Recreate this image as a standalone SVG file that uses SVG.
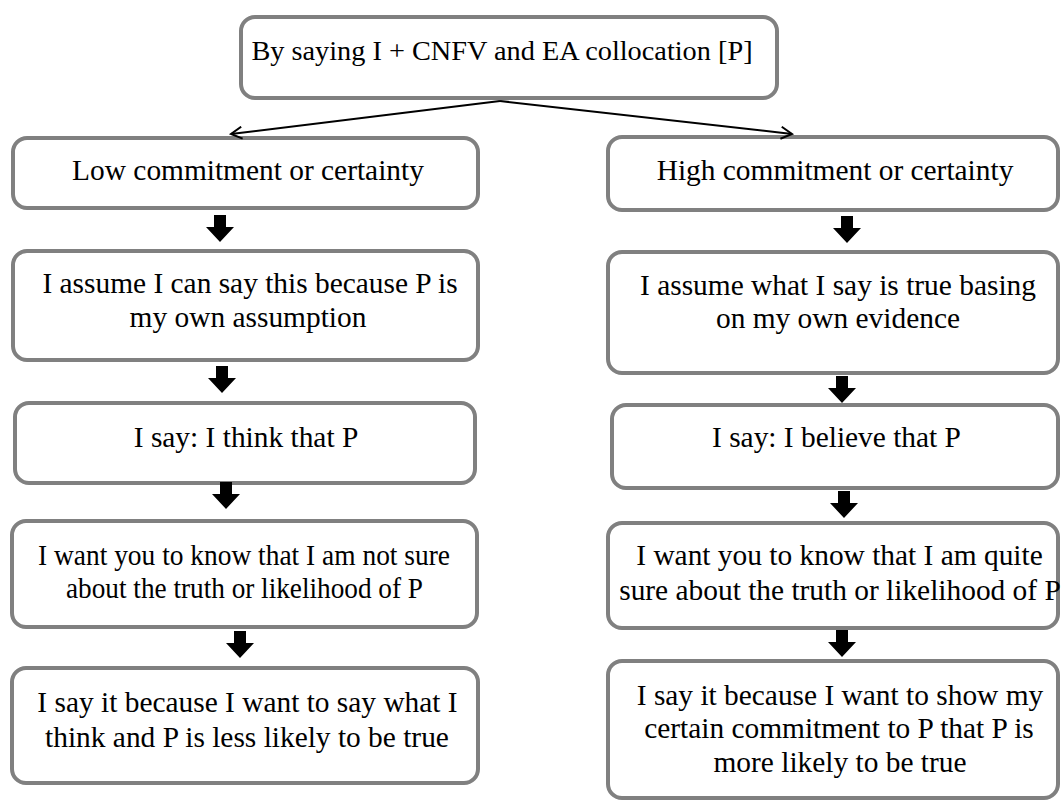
<svg xmlns="http://www.w3.org/2000/svg" width="1061" height="801" viewBox="0 0 1061 801">
<defs>
<style>
.box{fill:#fff;stroke:#808080;stroke-width:4}
.t{font-size:29.4px;fill:#000;text-anchor:middle}
.con{fill:none;stroke:#000;stroke-width:2}
.blk{fill:#000}
</style>
<marker id="open" markerWidth="14" markerHeight="14" refX="12" refY="7" orient="auto" markerUnits="userSpaceOnUse">
<path d="M1,1 L12,7 L1,13" fill="none" stroke="#000" stroke-width="2"/>
</marker>
<path id="blockArrow" d="M-6,0 H6 V12 H14 L0,27 L-14,12 H-6 Z"/>
</defs>
<rect width="1061" height="801" fill="#fff"/>
<g font-family="Liberation Serif, Times New Roman, serif">
<g id="n-top">
<rect class="box" x="241" y="17" width="536" height="81" rx="14"/>
<text class="t" x="502" y="60" style="font-size:28.3px">By saying I + CNFV and EA collocation [P]</text>
</g>

<g id="n-L1">
<rect class="box" x="13" y="138" width="465" height="70" rx="14"/>
<text class="t" x="248" y="180">Low commitment or certainty</text>
</g>
<g id="n-L2">
<rect class="box" x="13" y="251" width="465" height="109" rx="14"/>
<text class="t" x="250" y="293">I assume I can say this because P is</text>
<text class="t" x="248" y="327">my own assumption</text>
</g>
<g id="n-L3">
<rect class="box" x="15" y="403" width="460" height="80" rx="14"/>
<text class="t" x="246" y="447">I say: I think that P</text>
</g>
<g id="n-L4">
<rect class="box" x="12" y="521" width="465" height="106" rx="14"/>
<text class="t" x="244" y="565" textLength="412" lengthAdjust="spacingAndGlyphs">I want you to know that I am not sure</text>
<text class="t" x="244.5" y="598" textLength="357" lengthAdjust="spacingAndGlyphs">about the truth or likelihood of P</text>
</g>
<g id="n-L5">
<rect class="box" x="12" y="668" width="466" height="115" rx="14"/>
<text class="t" x="247.5" y="712">I say it because I want to say what I</text>
<text class="t" x="247" y="747">think and P is less likely to be true</text>
</g>

<g id="n-R1">
<rect class="box" x="608" y="137" width="450" height="73" rx="14"/>
<text class="t" x="835" y="180">High commitment or certainty</text>
</g>
<g id="n-R2">
<rect class="box" x="608" y="252" width="450" height="121" rx="14"/>
<text class="t" x="838" y="295">I assume what I say is true basing</text>
<text class="t" x="838" y="328">on my own evidence</text>
</g>
<g id="n-R3">
<rect class="box" x="612" y="405" width="446" height="83" rx="14"/>
<text class="t" x="836.5" y="447">I say: I believe that P</text>
</g>
<g id="n-R4">
<rect class="box" x="608" y="523" width="450" height="105" rx="14"/>
<text class="t" x="839.5" y="565">I want you to know that I am quite</text>
<text class="t" x="840" y="600">sure about the truth or likelihood of P</text>
</g>
<g id="n-R5">
<rect class="box" x="608" y="661" width="450" height="137" rx="14"/>
<text class="t" x="840" y="705">I say it because I want to show my</text>
<text class="t" x="839" y="738">certain commitment to P that P is</text>
<text class="t" x="840" y="772">more likely to be true</text>
</g>
</g>
<g id="connectors">
<path class="con" d="M500,101 L231,134" marker-end="url(#open)"/>
<path class="con" d="M500,101 L792,134" marker-end="url(#open)"/>
<use href="#blockArrow" class="blk" x="220" y="215"/>
<use href="#blockArrow" class="blk" x="222" y="366"/>
<use href="#blockArrow" class="blk" x="226" y="482"/>
<use href="#blockArrow" class="blk" x="240" y="631"/>
<use href="#blockArrow" class="blk" x="847" y="216"/>
<use href="#blockArrow" class="blk" x="842" y="376"/>
<use href="#blockArrow" class="blk" x="844" y="491"/>
<use href="#blockArrow" class="blk" x="842" y="630"/>
</g>
</svg>
